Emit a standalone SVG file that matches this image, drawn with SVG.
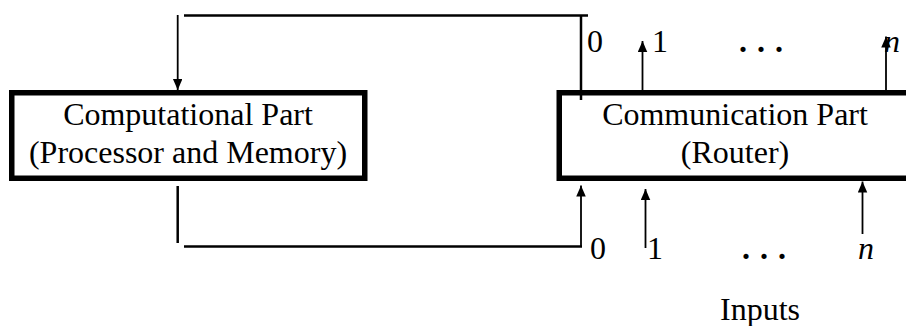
<svg xmlns="http://www.w3.org/2000/svg" width="906" height="326" viewBox="0 0 906 326" font-family="'Liberation Serif', 'Times New Roman', serif">
<style>
text{font-family:'Liberation Serif','Times New Roman',serif;font-size:32px;fill:#000}
.box{fill:#fff;stroke:#000;stroke-width:5.5}
.w{fill:none;stroke:#000;stroke-width:2.5}
.a{fill:none;stroke:#000;stroke-width:1.8;marker-end:url(#ah)}
.i{font-style:italic}
.d{font-weight:bold;letter-spacing:10px}
</style>
<defs>
<marker id="ah" markerUnits="userSpaceOnUse" markerWidth="11" markerHeight="10" refX="11" refY="4.75" orient="auto">
<path d="M0,0 L11,4.75 L0,9.5 z" fill="#000"/>
</marker>
</defs>
<g id="computational">
<rect class="box" x="11.75" y="92.75" width="353" height="85.5"/>
<text x="188" y="125" text-anchor="middle">Computational Part</text>
<text x="188" y="163" text-anchor="middle">(Processor and Memory)</text>
</g>
<g id="communication">
<rect class="box" x="559.25" y="92.75" width="360" height="85.5"/>
<text x="735" y="125" text-anchor="middle">Communication Part</text>
<text x="735" y="163" text-anchor="middle">(Router)</text>
</g>
<g id="connectors">
<line class="w" x1="184" y1="15.5" x2="588" y2="15.5"/>
<line class="w" x1="581" y1="15.5" x2="581" y2="100"/>
<line class="a" x1="177.7" y1="15" x2="177.7" y2="90"/>
<line class="w" x1="177.7" y1="186" x2="177.7" y2="243"/>
<line class="w" x1="184" y1="246.5" x2="582" y2="246.5"/>
<line class="a" x1="581" y1="246" x2="581" y2="185.5"/>
<line class="a" x1="642.5" y1="90" x2="642.5" y2="41"/>
<line class="a" x1="886" y1="90" x2="886" y2="36.5"/>
<line class="a" x1="645.5" y1="248" x2="645.5" y2="189"/>
<line class="a" x1="862.5" y1="234" x2="862.5" y2="181.5"/>
</g>
<g id="labels">
<text x="587" y="52">0</text>
<text x="652" y="52">1</text>
<text class="d" x="739" y="52">...</text>
<text class="i" x="884" y="52">n</text>
<text x="590" y="259">0</text>
<text x="647" y="259">1</text>
<text class="d" x="742" y="259">...</text>
<text class="i" x="858" y="259">n</text>
<text x="760" y="320" text-anchor="middle">Inputs</text>
</g>
</svg>
